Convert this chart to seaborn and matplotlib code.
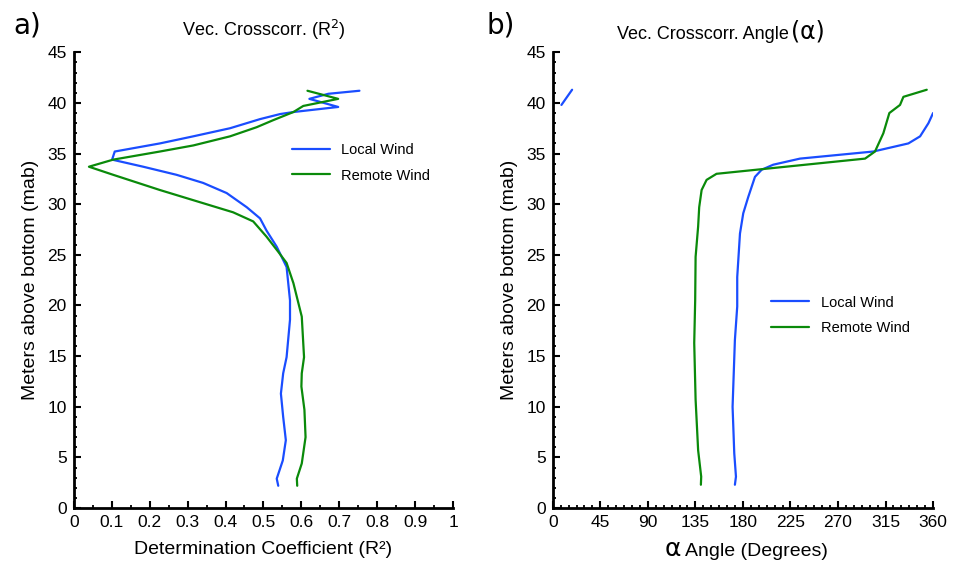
import numpy as np
import pandas as pd
import matplotlib.pyplot as plt
import seaborn as sns
from matplotlib.ticker import MultipleLocator

sns.set_style("ticks", {'axes.edgecolor': 'black', 'text.color': 'black',
                        'axes.labelcolor': 'black', 'xtick.color': 'black',
                        'ytick.color': 'black'})
plt.rcParams['font.family'] = ['Liberation Sans', 'DejaVu Sans']

# --- panel a: determination coefficient profiles ---
local_r2 = [0.753, 0.671, 0.621, 0.697, 0.579, 0.544, 0.491, 0.412, 0.315, 0.227, 0.108, 0.101,
            0.183, 0.271, 0.341, 0.403, 0.456, 0.491, 0.508, 0.535, 0.561, 0.570, 0.570, 0.561,
            0.552, 0.546, 0.552, 0.559, 0.551, 0.535, 0.539]
local_r2_z = [41.2, 40.9, 40.4, 39.6, 39.1, 38.9, 38.4, 37.5, 36.7, 36.0, 35.2, 34.4,
              33.7, 32.9, 32.1, 31.1, 29.7, 28.6, 27.4, 25.8, 23.8, 20.5, 18.6, 14.9,
              13.3, 11.3, 9.0, 6.7, 4.7, 2.9, 2.2]
remote_r2 = [0.616, 0.697, 0.605, 0.579, 0.526, 0.482, 0.412, 0.315, 0.227, 0.104, 0.040,
             0.104, 0.227, 0.341, 0.420, 0.473, 0.508, 0.539, 0.561, 0.579, 0.601, 0.607,
             0.601, 0.600, 0.608, 0.611, 0.601, 0.588, 0.589]
remote_r2_z = [41.2, 40.4, 39.7, 39.1, 38.3, 37.6, 36.7, 35.8, 35.2, 34.4, 33.7,
               32.9, 31.4, 30.1, 29.2, 28.3, 26.8, 25.3, 24.2, 22.2, 18.9, 14.9,
               13.3, 12.0, 9.7, 7.0, 4.4, 2.9, 2.2]

# --- panel b: angle profiles (local wind wraps past 360) ---
local_top_ang = [8.2, 18.3]
local_top_z = [39.8, 41.3]
local_ang = [360.0, 355.6, 347.7, 336.6, 303.4, 234.0, 208.7, 197.7, 191.4, 185.0, 180.3,
             177.2, 174.6, 174.6, 172.4, 170.2, 171.8, 173.4, 172.4]
local_ang_z = [39.0, 38.0, 36.7, 36.0, 35.2, 34.5, 33.9, 33.4, 32.7, 30.7, 29.1,
               27.1, 22.8, 19.9, 16.6, 10.0, 5.4, 3.1, 2.3]
remote_ang = [354.0, 331.9, 328.7, 318.6, 312.9, 305.0, 295.6, 155.0, 145.6, 140.9, 138.6,
              137.6, 135.2, 134.8, 133.9, 135.2, 137.6, 140.5, 140.2]
remote_ang_z = [41.3, 40.6, 39.8, 39.0, 37.0, 35.2, 34.5, 33.0, 32.4, 31.4, 29.7,
                27.8, 24.8, 20.5, 16.3, 10.7, 5.7, 3.1, 2.3]

colors = {'Local Wind': '#1a4dff', 'Remote Wind': '#0a8a0a'}


def frame(x, z, name, seg):
    return pd.DataFrame({'x': x, 'z': z, 'wind': name, 'seg': seg})


df_a = pd.concat([frame(local_r2, local_r2_z, 'Local Wind', 0),
                  frame(remote_r2, remote_r2_z, 'Remote Wind', 1)], ignore_index=True)
df_b = pd.concat([frame(local_ang, local_ang_z, 'Local Wind', 0),
                  frame(local_top_ang, local_top_z, 'Local Wind', 1),
                  frame(remote_ang, remote_ang_z, 'Remote Wind', 2)], ignore_index=True)

fig = plt.figure(figsize=(9.58, 5.62), dpi=100)
ax1 = fig.add_axes([0.077, 0.096, 0.396, 0.811])
ax2 = fig.add_axes([0.577, 0.096, 0.397, 0.811])

for ax, df in [(ax1, df_a), (ax2, df_b)]:
    sns.lineplot(data=df, x='x', y='z', hue='wind', units='seg', estimator=None,
                 sort=False, palette=colors, linewidth=1.6, ax=ax)
    ax.set_ylim(0, 45)
    ax.yaxis.set_major_locator(MultipleLocator(5))
    ax.yaxis.set_minor_locator(MultipleLocator(1))
    for s in ['top', 'right']:
        ax.spines[s].set_visible(False)
    for s in ['left', 'bottom']:
        ax.spines[s].set_linewidth(2)
    ax.tick_params(which='major', direction='in', length=5, width=1.5, labelsize=12.5, pad=5)
    ax.tick_params(which='minor', direction='in', length=2.5, width=1.3)
    ax.set_ylabel('Meters above bottom (mab)', fontsize=14, labelpad=6)

ax1.set_xlim(0, 1)
ax1.xaxis.set_minor_locator(MultipleLocator(0.05))
ax1.set_xticks(np.arange(0, 1.01, 0.1))
ax1.set_xticklabels(['0', '0.1', '0.2', '0.3', '0.4', '0.5', '0.6', '0.7', '0.8', '0.9', '1'])
ax1.set_xlabel('Determination Coefficient (R²)', fontsize=14, labelpad=8)
ax1.set_title('Vec. Crosscorr. (R$^2$)', fontsize=13, pad=12)
ax1.legend(loc='upper left', bbox_to_anchor=(0.54, 0.83), frameon=False, fontsize=10.5,
           handlelength=2.6, labelspacing=0.8)

ax2.set_xlim(0, 360)
ax2.xaxis.set_major_locator(MultipleLocator(45))
ax2.xaxis.set_minor_locator(MultipleLocator(7.5))
ax2.set_xlabel('')
ax2.text(0.62, 1.03, 'Vec. Crosscorr. Angle', transform=ax2.transAxes, fontsize=13,
         ha='right', va='baseline')
ax2.text(0.627, 1.03, '(α)', transform=ax2.transAxes, fontsize=17,
         family='DejaVu Sans', ha='left', va='baseline')
ax2.text(0.295, -0.105, 'α', transform=ax2.transAxes, fontsize=18, family='DejaVu Sans',
         ha='left', va='baseline')
ax2.text(0.347, -0.105, 'Angle (Degrees)', transform=ax2.transAxes, fontsize=14,
         ha='left', va='baseline')
ax2.legend(loc='upper left', bbox_to_anchor=(0.54, 0.495), frameon=False, fontsize=10.5,
           handlelength=2.6, labelspacing=0.8)

fig.text(0.014, 0.94, 'a)', fontsize=20, family='DejaVu Sans')
fig.text(0.508, 0.94, 'b)', fontsize=20, family='DejaVu Sans')

fig.savefig('out.png', dpi=100)
